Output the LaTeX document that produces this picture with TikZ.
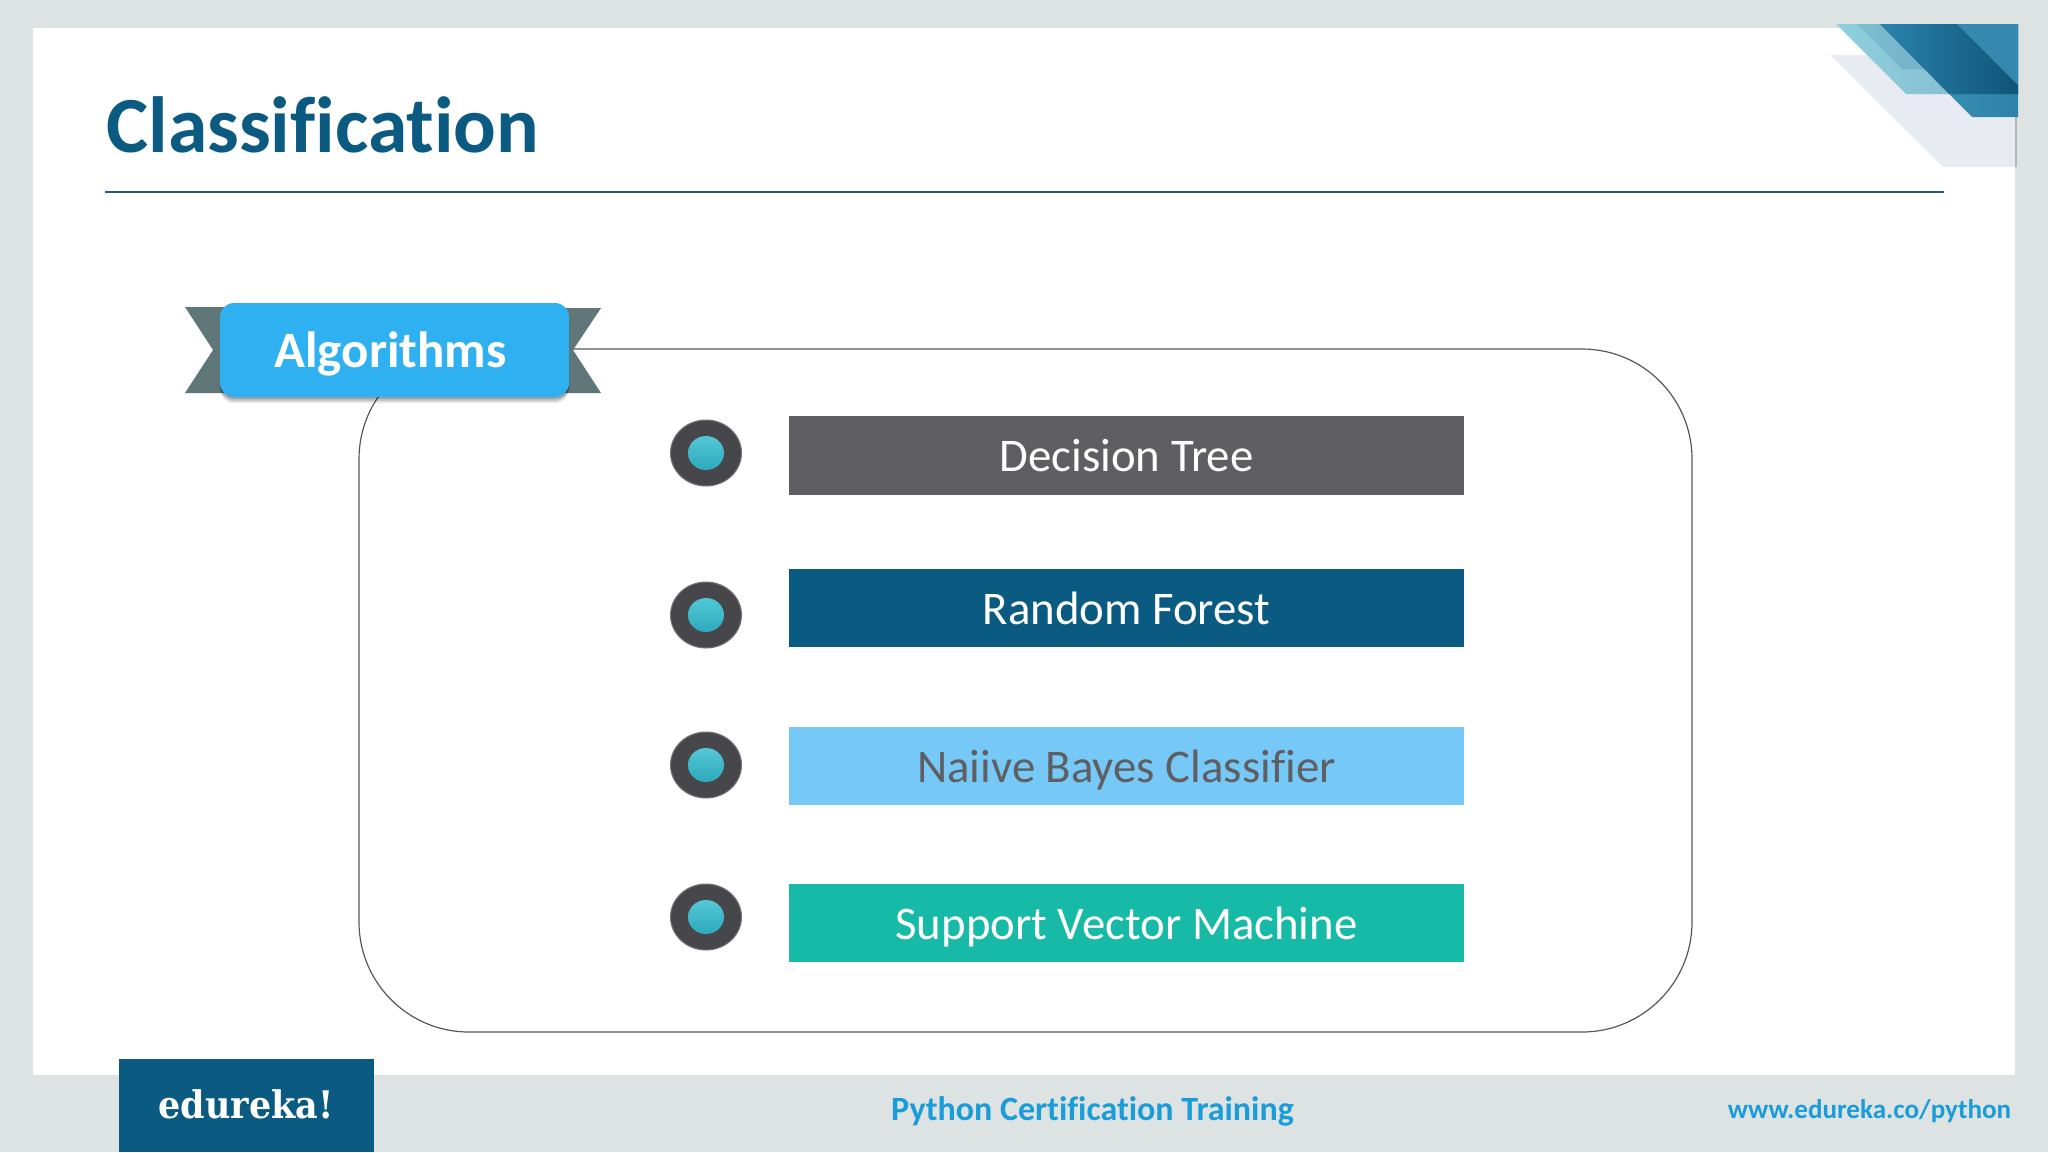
\documentclass[tikz,border=0pt]{standalone}
\usepackage{fontspec}
\setmainfont[Ligatures=NoCommon]{Carlito}
\newfontfamily\slabfont[FakeStretch=0.92]{DejaVu Serif}
\definecolor{bgG}{HTML}{DDE3E2}
\definecolor{navy}{HTML}{0A5A82}
\definecolor{barGrey}{HTML}{5F5E62}
\definecolor{barSky}{HTML}{76C9F6}
\definecolor{barTeal}{HTML}{16BAA6}
\definecolor{tagBlue}{HTML}{2FB0F0}
\definecolor{tailG}{HTML}{60777A}
\definecolor{ringG}{HTML}{47474B}
\definecolor{footBlue}{HTML}{1A9CD8}
\definecolor{ruleC}{HTML}{1F5F70}
\definecolor{lineC}{HTML}{55585A}
\definecolor{greyTri}{HTML}{E9EBF3}
\definecolor{lightA}{HTML}{8DD0DD}
\definecolor{lightB}{HTML}{86B6CB}
\definecolor{midA}{HTML}{7CC0D0}
\definecolor{midB}{HTML}{78AFC6}
\definecolor{stripA}{HTML}{3E97BA}
\definecolor{stripB}{HTML}{2F82A8}
\definecolor{bandA}{HTML}{2A84AC}
\definecolor{bandB}{HTML}{0F5478}
\definecolor{wedgeC}{HTML}{3589AF}
\definecolor{dotA}{HTML}{52C8D6}
\definecolor{dotB}{HTML}{2EA9BC}
\tikzset{
  x=0.5pt,y=-0.5pt,
  barbox/.style={minimum width=337.5pt,minimum height=39.25pt,inner sep=0pt,text=white,text height=16pt,text depth=0pt,font=\fontsize{23.4}{26}\selectfont},
  ringdot/.style={ellipse,minimum width=35.5pt,minimum height=33pt,inner sep=0pt,fill=ringG,draw=ringG!75!white,line width=.5pt},
  coredot/.style={ellipse,minimum width=18pt,minimum height=17pt,inner sep=0pt,top color=dotA,bottom color=dotB},
}
\usetikzlibrary{shapes.geometric,calc}
\begin{document}
\begin{tikzpicture}
\useasboundingbox (0,0) rectangle (2048,1152);
\fill[bgG] (0,0) rectangle (2048,1152);
\fill[white] (33,28) rectangle (2015,1075);
% corner decoration
\fill[greyTri] (1830,55) -- (1943,167) -- (2018,167) -- (2018,55) -- cycle;
\fill[bgG!80!black] (2015,117) rectangle (2017,167);
\fill[bgG] (2017,24) rectangle (2018,167);
\shade[left color=lightA,right color=lightB] (1836,24) -- (1906,94) -- (2018,94) -- (2018,24) -- cycle;
\shade[left color=midA,right color=midB] (1857,24) -- (1902,69) -- (1925,69) -- (1880,24) -- cycle;
\shade[left color=stripA,right color=stripB] (1880,24) -- (1972,117) -- (2018,117) -- (2018,24) -- cycle;
\shade[left color=bandA,right color=bandB] (1880,24) -- (1949,94) -- (2018,94) -- (2018,85) -- (1957,24) -- cycle;
\fill[wedgeC] (1957,24) -- (2018,85) -- (2018,24) -- cycle;
% title
\node[anchor=base west,inner sep=0pt,text=navy,font=\fontsize{39.8}{44}\selectfont\bfseries] (title) at (106,152) {Classification};
\coordinate (ruleL) at (105,192);
\coordinate (ruleR) at (1944,192);
\draw[ruleC,line width=.9pt] (ruleL) -- (ruleR);
% frame
\node[draw=lineC,line width=.6pt,rounded corners=55pt,minimum width=666.5pt,minimum height=341.5pt,inner sep=0pt] (frame) at (1025.5,690.5) {};
% ribbon
\fill[tailG] (185,307) -- (213,350) -- (185,393) -- (230,393) -- (230,307) -- cycle;
\fill[tailG] (601,308) -- (573,350) -- (601,393) -- (550,393) -- (550,308) -- cycle;
\foreach \d/\o in {6/.10,4/.14,2/.18}{
  \fill[black,opacity=\o,rounded corners=7pt] (220,303+\d) rectangle (569,397+\d);
}
\node[fill=tagBlue,rounded corners=7pt,minimum width=174.5pt,minimum height=47pt,inner sep=0pt,text=white,text height=17pt,text depth=0pt,font=\fontsize{25.5}{28}\selectfont\bfseries] (algo) at (394.5,350) {Algorithms\hspace*{4pt}};
% bullets and bars
\foreach \n/\y in {a/453,b/615,c/765,d/917}{
  \node[ringdot] (ring\n) at (706,\y) {};
  \node[coredot] (core\n) at (706,\y) {};
}
\node[barbox,fill=barGrey] (bar1) at (1126.5,455.5) {Decision Tree};
\node[barbox,fill=navy] (bar2) at (1126.5,608) {Random Forest};
\node[barbox,fill=barSky,text=barGrey] (bar3) at (1126.5,766) {Naiive Bayes Classifier};
\node[barbox,fill=barTeal] (bar4) at (1126.5,923) {Support Vector Machine};
% footer
\node[fill=navy,minimum width=127.5pt,minimum height=46.5pt,inner sep=0pt] (logo) at (246.5,1105.5) {};
\node[anchor=base,text=white,inner sep=0pt,font=\fontsize{19}{22}\slabfont\bfseries] (logotext) at (246,1118) {edureka!};
\node[anchor=base,text=footBlue,inner sep=0pt,font=\fontsize{17}{20}\selectfont\bfseries] (foot1) at (1092.5,1120) {Python Certification Training};
\node[anchor=base,text=footBlue,inner sep=0pt,font=\fontsize{13.55}{18}\selectfont\bfseries] (foot2) at (1869.5,1118) {www.edureka.co/python};
\end{tikzpicture}
\end{document}
